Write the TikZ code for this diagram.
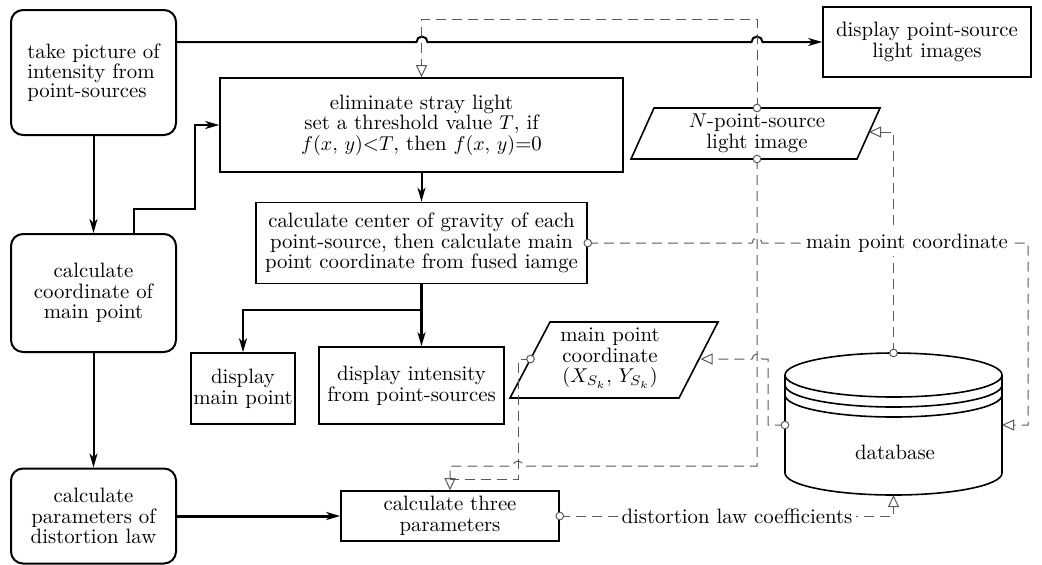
\documentclass[tikz,border=0pt]{standalone}
\usetikzlibrary{arrows.meta}

\tikzset{
  txt/.style={font=\fontsize{10.4}{10.3}\selectfont, align=center, inner sep=0pt},
  procbox/.style={draw, line width=0.8pt, txt},
  roundbox/.style={draw, line width=1pt, rounded corners=6pt, txt},
  flow/.style={line width=1pt, -{Stealth[length=7pt,width=4pt,inset=2pt]}},
  dataline/.style={line width=0.5pt, draw=black!65, dash pattern=on 5pt off 3pt},
  dataflow/.style={dataline, -{Triangle[open,length=6pt,width=5.5pt,line width=0.5pt]}},
  port/.style={circle, draw=black!65, fill=white, line width=0.5pt, minimum size=3.8pt, inner sep=0pt},
  tag/.style={txt, fill=white, inner sep=2pt},
}

\begin{document}
\begin{tikzpicture}[x=0.5pt, y=-0.5pt]
\useasboundingbox (0,0) rectangle (1042,564);

% process steps (rounded)
\node[roundbox, minimum width=82.5pt, minimum height=62.5pt, align=left,
      font=\fontsize{10.4}{9.3}\selectfont] (A) at (93.5,72.5)
      {take picture of\\intensity from\\point-sources};
\node[roundbox, minimum width=82.5pt, minimum height=59pt] (B) at (93.5,293)
      {calculate\\coordinate of\\main point};
\node[roundbox, minimum width=82.5pt, minimum height=47.5pt] (C) at (93.5,516)
      {calculate\\parameters of\\distortion law};

% plain boxes
\node[procbox, minimum width=201.5pt, minimum height=47pt] (D) at (421.5,125)
      {eliminate stray light\\set a threshold value $T$, if\\$f(x,\,y)$<$T$, then $f(x,\,y)$=0};
\node[procbox, minimum width=165.5pt, minimum height=40.5pt] (E) at (421.5,243)
      {calculate center of gravity of each\\point-source, then calculate main\\point coordinate from fused iamge};
\node[procbox, minimum width=52pt, minimum height=35.5pt] (F) at (243,388.5)
      {display\\main point};
\node[procbox, minimum width=92.5pt, minimum height=38.5pt] (G) at (411.5,385.5)
      {display intensity\\from point-sources};
\node[procbox, minimum width=104pt, minimum height=35pt] (J) at (927,42)
      {display point-source\\light images};
\node[procbox, minimum width=109pt, minimum height=25pt] (K) at (450,516)
      {calculate three\\parameters};

% data (parallelograms)
\draw[line width=0.8pt] (550,322) -- (718,322) -- (679,398) -- (510,398) -- cycle;
\node[txt] (H) at (610,358) {main point\\coordinate\\$(X_{S_k},\,Y_{S_k})$};
\draw[line width=0.8pt] (654,108) -- (880,108) -- (857,159) -- (631,159) -- cycle;
\node[txt] (I) at (757,133) {$N$-point-source\\light image};

% database cylinder
\draw[line width=0.8pt] (893.5,375) ellipse[x radius=108.5, y radius=22];
\draw[line width=0.8pt] (785,385) arc[start angle=180, end angle=0, x radius=108.5, y radius=22];
\draw[line width=0.8pt] (785,395) arc[start angle=180, end angle=0, x radius=108.5, y radius=22];
\draw[line width=0.8pt] (785,375) -- (785,473)
      arc[start angle=180, end angle=0, x radius=108.5, y radius=22] -- (1002,375);
\node[txt] (db) at (895,452) {database};

% anchor points on the drawn shapes
\coordinate (itop) at (757,108);
\coordinate (ibot) at (757,159);
\coordinate (iright) at (869,132);
\coordinate (hleft) at (530.5,359);
\coordinate (hright) at (700.5,359);
\coordinate (dbtop) at (893.5,353);
\coordinate (dbleft) at (785,425);
\coordinate (dbright) at (1002,425);
\coordinate (dbbot) at (893.5,495);
\coordinate (bup) at (134,234);

% control flow
\draw[flow] (A.east |- J.west) -- (416.5,42)
      arc[start angle=180, end angle=360, radius=5.5] -- (751.5,42)
      arc[start angle=180, end angle=360, radius=5.5] -- (J.west);
\draw[flow] (A.south) -- (B.north);
\draw[flow] (bup) -- (134,209) -- (195,209) -- (195,125) -- (D.west);
\draw[flow] (D.south) -- (E.north);
\draw[flow, line width=1.2pt] (E.south) -- (E.south |- G.north);
\draw[flow, line width=1.2pt] (E.south) -- (421.5,310) -| (F.north);
\draw[flow] (B.south) -- (C.north);
\draw[flow, line width=1.5pt] (C.east) -- (K.west);

% data flow
\draw[dataflow] (itop) -- (757,19) -| (D.north);
\draw[dataflow] (ibot) -- (757,466) -- (523,466)
      arc[start angle=360, end angle=180, radius=5] -- (450,466) -- (K.north);
\draw[dataline] (hleft) -| (518,479) -- (450,479);
\draw[dataflow] (E.east) -- (752,243)
      arc[start angle=180, end angle=360, radius=5] -- (1028,243) |- (dbright);
\draw[dataflow] (dbtop) |- (iright);
\draw[dataflow] (dbleft) -- (768,425) -- (768,359) -- (762,359)
      arc[start angle=360, end angle=180, radius=5] -- (hright);
\draw[dataflow] (K.east) -| (dbbot);

\node[tag] (mpc) at (907,243) {main point coordinate};
\node[tag] (dlc) at (737,516) {distortion law coefficients};

% connection ports
\foreach \p in {itop, ibot, hleft, dbtop, dbleft} \node[port] at (\p) {};
\node[port] at (E.east) {};
\node[port] at (K.east) {};
\end{tikzpicture}
\end{document}
